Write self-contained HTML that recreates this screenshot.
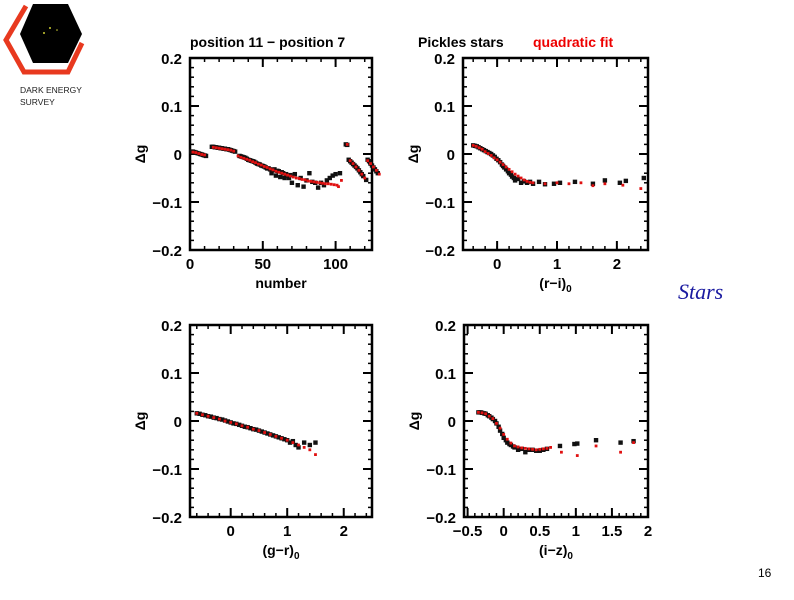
<!DOCTYPE html>
<html><head><meta charset="utf-8"><style>
html,body{margin:0;padding:0;background:#fff;}
body{width:794px;height:595px;overflow:hidden;position:relative;font-family:"Liberation Sans",sans-serif;}
</style></head><body>
<svg id="chart" width="794" height="595" viewBox="0 0 794 595" xmlns="http://www.w3.org/2000/svg" font-family="Liberation Sans, sans-serif">
<g>
<polygon points="33,4 68,4 82,34 68,63 33,63 20,34" fill="#000"/>
<polyline points="26,6 6,40 24,72 68,72 82,43" fill="none" stroke="#e8391f" stroke-width="5"/>
<circle cx="44" cy="33" r="1" fill="#cc3"/><circle cx="50" cy="28" r="1" fill="#cc3"/><circle cx="57" cy="30" r="0.8" fill="#cc3"/>
<text x="20" y="93" font-size="8.5" fill="#222">DARK ENERGY</text>
<text x="20" y="105" font-size="8.5" fill="#222">SURVEY</text>
</g>
<text x="190" y="47" font-size="14" font-weight="bold">position 11 − position 7</text>
<text x="418" y="47" font-size="14" font-weight="bold">Pickles stars</text>
<text x="533" y="47" font-size="14" font-weight="bold" fill="#e00">quadratic fit</text>
<text x="678" y="299" font-size="22" font-style="italic" font-family="Liberation Serif, serif" fill="#1a1aa0">Stars</text>
<text x="758" y="577" font-size="12">16</text>
<g id="plots"></g>
</svg>
<script>
// Panel A: number
const aBx=[1,2,3,4,5,6,7,8,9,10,11,15,16,17,18,19,20,21,22,23,24,25,26,27,28,29,30,31,34,35,36,37,38,39,40,41,42,43,44,45,46,47,48,49,50,51,52,53,54,55,56,57,58,59,60,61,62,63,64,65,66,67,68,69,70,72,74,76,78,80,82,84,86,88,90,92,94,96,98,100,103,107,108,109,110,111,112,113,114,115,116,117,118,119,121,122,123,124,125,126,127,128,129];
const aBy=[0.005,0.005,0.004,0.003,0.002,0.001,0.0,-0.001,-0.002,-0.003,-0.004,0.015,0.015,0.014,0.014,0.013,0.013,0.012,0.012,0.011,0.011,0.01,0.01,0.009,0.008,0.007,0.006,0.005,-0.004,-0.005,-0.006,-0.007,-0.008,-0.01,-0.012,-0.013,-0.014,-0.015,-0.016,-0.018,-0.02,-0.021,-0.022,-0.024,-0.025,-0.026,-0.028,-0.03,-0.03,-0.032,-0.04,-0.034,-0.032,-0.045,-0.035,-0.036,-0.048,-0.038,-0.04,-0.05,-0.042,-0.045,-0.05,-0.044,-0.06,-0.042,-0.065,-0.05,-0.068,-0.055,-0.04,-0.058,-0.06,-0.07,-0.06,-0.065,-0.055,-0.05,-0.045,-0.042,-0.04,0.02,0.019,-0.012,-0.015,-0.018,-0.021,-0.024,-0.027,-0.03,-0.034,-0.038,-0.042,-0.046,-0.054,-0.012,-0.015,-0.02,-0.024,-0.028,-0.032,-0.036,-0.04];
const aRx=[2,4,6,8,10,16,18,20,22,24,26,28,30,33,35,37,39,41,43,45,47,49,51,53,55,57,59,61,63,65,67,69,71,73,75,77,79,81,83,85,87,89,91,93,95,97,99,101,102,104,108,110,112,114,116,118,120,122,124,126,128,130];
const aRy=[0.004,0.003,0.001,-0.001,-0.002,0.014,0.013,0.012,0.011,0.01,0.009,0.008,0.006,-0.004,-0.007,-0.009,-0.011,-0.013,-0.016,-0.018,-0.021,-0.023,-0.026,-0.028,-0.031,-0.033,-0.036,-0.038,-0.04,-0.042,-0.044,-0.046,-0.048,-0.05,-0.051,-0.053,-0.054,-0.056,-0.057,-0.058,-0.059,-0.06,-0.061,-0.062,-0.062,-0.063,-0.064,-0.065,-0.068,-0.055,0.02,-0.014,-0.02,-0.027,-0.034,-0.042,-0.05,-0.014,-0.02,-0.027,-0.034,-0.042];
// Panel B: (r-i)0
const bBx=[-0.4,-0.37,-0.34,-0.31,-0.28,-0.25,-0.22,-0.19,-0.16,-0.13,-0.1,-0.07,-0.04,-0.01,0.02,0.05,0.08,0.1,0.12,0.15,0.18,0.2,0.23,0.25,0.28,0.3,0.35,0.4,0.45,0.5,0.55,0.6,0.7,0.8,0.95,1.05,1.3,1.6,1.8,2.05,2.15,2.45];
const bBy=[0.018,0.017,0.016,0.014,0.012,0.01,0.008,0.006,0.004,0.002,0.0,-0.003,-0.006,-0.01,-0.013,-0.017,-0.022,-0.025,-0.028,-0.032,-0.036,-0.04,-0.043,-0.047,-0.05,-0.055,-0.052,-0.06,-0.057,-0.06,-0.058,-0.062,-0.058,-0.063,-0.062,-0.06,-0.058,-0.062,-0.055,-0.06,-0.056,-0.05];
const bRx=[-0.4,-0.35,-0.3,-0.25,-0.2,-0.15,-0.1,-0.05,0,0.05,0.1,0.15,0.2,0.25,0.3,0.35,0.4,0.45,0.5,0.55,0.6,0.8,1.0,1.2,1.4,1.6,1.8,2.1,2.4];
const bRy=[0.018,0.016,0.013,0.01,0.005,0.001,-0.003,-0.008,-0.012,-0.017,-0.022,-0.027,-0.032,-0.037,-0.042,-0.046,-0.05,-0.054,-0.057,-0.059,-0.06,-0.062,-0.06,-0.062,-0.06,-0.066,-0.062,-0.065,-0.072];
// Panel C: (g-r)0
const cBx=[-0.6,-0.55,-0.5,-0.45,-0.4,-0.35,-0.3,-0.25,-0.2,-0.15,-0.1,-0.05,0,0.05,0.1,0.15,0.2,0.25,0.3,0.35,0.4,0.45,0.5,0.55,0.6,0.65,0.7,0.75,0.8,0.85,0.9,0.95,1.0,1.05,1.1,1.15,1.2,1.3,1.4,1.5];
const cBy=[0.016,0.015,0.013,0.012,0.01,0.009,0.007,0.006,0.004,0.003,0.001,-0.001,-0.003,-0.005,-0.006,-0.008,-0.01,-0.012,-0.013,-0.015,-0.017,-0.018,-0.02,-0.022,-0.024,-0.026,-0.028,-0.03,-0.032,-0.034,-0.036,-0.038,-0.04,-0.045,-0.042,-0.05,-0.055,-0.045,-0.05,-0.045];
const cRx=[-0.6,-0.5,-0.4,-0.3,-0.2,-0.1,0,0.1,0.2,0.3,0.4,0.5,0.6,0.7,0.8,0.9,1.0,1.1,1.2,1.3,1.4,1.5];
const cRy=[0.016,0.013,0.01,0.007,0.004,0.0,-0.003,-0.006,-0.01,-0.013,-0.017,-0.02,-0.024,-0.028,-0.032,-0.036,-0.04,-0.045,-0.05,-0.055,-0.06,-0.07];
// Panel D: (i-z)0
const dBx=[-0.35,-0.32,-0.3,-0.27,-0.25,-0.22,-0.2,-0.17,-0.15,-0.12,-0.1,-0.07,-0.05,-0.02,0,0.03,0.05,0.08,0.1,0.13,0.15,0.2,0.25,0.3,0.35,0.4,0.45,0.5,0.55,0.6,0.78,0.98,1.02,1.28,1.62,1.8];
const dBy=[0.018,0.018,0.017,0.016,0.015,0.012,0.01,0.007,0.004,0.0,-0.005,-0.012,-0.02,-0.027,-0.035,-0.04,-0.045,-0.048,-0.05,-0.053,-0.055,-0.06,-0.058,-0.065,-0.06,-0.06,-0.062,-0.062,-0.06,-0.058,-0.052,-0.048,-0.047,-0.04,-0.045,-0.042];
const dRx=[-0.35,-0.3,-0.25,-0.2,-0.15,-0.1,-0.05,0,0.05,0.1,0.15,0.2,0.25,0.3,0.35,0.4,0.45,0.5,0.55,0.6,0.65,0.8,1.02,1.28,1.62,1.8];
const dRy=[0.018,0.017,0.015,0.01,0.005,-0.005,-0.015,-0.028,-0.038,-0.046,-0.052,-0.054,-0.056,-0.057,-0.058,-0.059,-0.06,-0.059,-0.058,-0.057,-0.055,-0.065,-0.072,-0.052,-0.065,-0.045];

const yTicks=[-0.2,-0.1,0,0.1,0.2];
const yTickLabels=["−0.2","−0.1","0","0.1","0.2"];
const aXTicks=[0,50,100], aXLabels=["0","50","100"];
const bXTicks=[0,1,2], bXLabels=["0","1","2"];
const cXTicks=[0,1,2], cXLabels=["0","1","2"];
const dXTicks=[-0.5,0,0.5,1,1.5,2], dXLabels=["−0.5","0","0.5","1","1.5","2"];

const NS="http://www.w3.org/2000/svg";
const root=document.getElementById('plots');
function mk(tag,attrs,parent){const e=document.createElementNS(NS,tag);for(const k in attrs)e.setAttribute(k,attrs[k]);parent.appendChild(e);return e;}

function panel(name,L,T,R,B,x0,x1,xt,xl,xtitle,bx,by,rx,ry,minor){
  const g=mk('g',{},root);
  
  
  const sx=v=>L+(v-x0)/(x1-x0)*(R-L);
  const sy=v=>B-(v+0.2)/0.4*(B-T);
  for(let v=-0.2;v<=0.2001;v+=0.02){const y=sy(v);mk('line',{x1:L,x2:L+4,y1:y,y2:y,stroke:'#000','stroke-width':1.5},g);mk('line',{x1:R,x2:R-4,y1:y,y2:y,stroke:'#000','stroke-width':1.5},g);}
  for(let v=Math.ceil(x0/minor)*minor;v<=x1+1e-9;v+=minor){const x=sx(v);mk('line',{x1:x,x2:x,y1:B,y2:B-4,stroke:'#000','stroke-width':1.5},g);mk('line',{x1:x,x2:x,y1:T,y2:T+4,stroke:'#000','stroke-width':1.5},g);}
  yTicks.forEach((v,i)=>{const y=sy(v);
    mk('line',{x1:L,x2:L+9,y1:y,y2:y,stroke:'#000','stroke-width':2},g);
    mk('line',{x1:R,x2:R-9,y1:y,y2:y,stroke:'#000','stroke-width':2},g);
    const t=mk('text',{x:L-8,y:y+6,'text-anchor':'end','font-size':15,'font-weight':'bold'},g);t.textContent=yTickLabels[i];
    
    });
  xt.forEach((v,i)=>{const x=sx(v);
    mk('line',{x1:x,x2:x,y1:B,y2:B-9,stroke:'#000','stroke-width':2},g);
    mk('line',{x1:x,x2:x,y1:T,y2:T+9,stroke:'#000','stroke-width':2},g);
    const t=mk('text',{x:x,y:B+19,'text-anchor':'middle','font-size':15,'font-weight':'bold'},g);t.textContent=xl[i];
    
    });
  mk('rect',{x:L,y:T,width:R-L,height:B-T,fill:'none',stroke:'#000','stroke-width':2.5},g);
  const yt=mk('text',{x:0,y:0,'font-size':14,'font-weight':'bold','text-anchor':'middle',transform:`translate(${L-45},${sy(0)}) rotate(-90)`},g);yt.textContent='Δg';
  
  
  const xtt=mk('text',{x:(L+R)/2,y:B+38,'font-size':14,'font-weight':'bold','text-anchor':'middle'},g);
  xtt.innerHTML=xtitle;
  
  
  bx.forEach((v,i)=>{const p=mk('rect',{x:sx(v)-2.2,y:sy(by[i])-2.2,width:4.4,height:4.4,fill:'#111'},g);
    
    });
  rx.forEach((v,i)=>{const p=mk('rect',{x:sx(v)-1.4,y:sy(ry[i])-1.4,width:2.8,height:2.8,fill:'#e01010'},g);
    
    });
}
panel('panel-number',190,58,372,250,0,125,aXTicks,aXLabels,'number',aBx,aBy,aRx,aRy,10);
panel('panel-r-i',463,58,648,250,-0.57,2.52,bXTicks,bXLabels,'(r−i)<tspan font-size="10" dy="4">0</tspan>',bBx,bBy,bRx,bRy,0.2);
panel('panel-g-r',190,325,372,517,-0.72,2.5,cXTicks,cXLabels,'(g−r)<tspan font-size="10" dy="4">0</tspan>',cBx,cBy,cRx,cRy,0.2);
panel('panel-i-z',464,325,648,517,-0.55,2.0,dXTicks,dXLabels,'(i−z)<tspan font-size="10" dy="4">0</tspan>',dBx,dBy,dRx,dRy,0.1);
</script>
</body></html>
